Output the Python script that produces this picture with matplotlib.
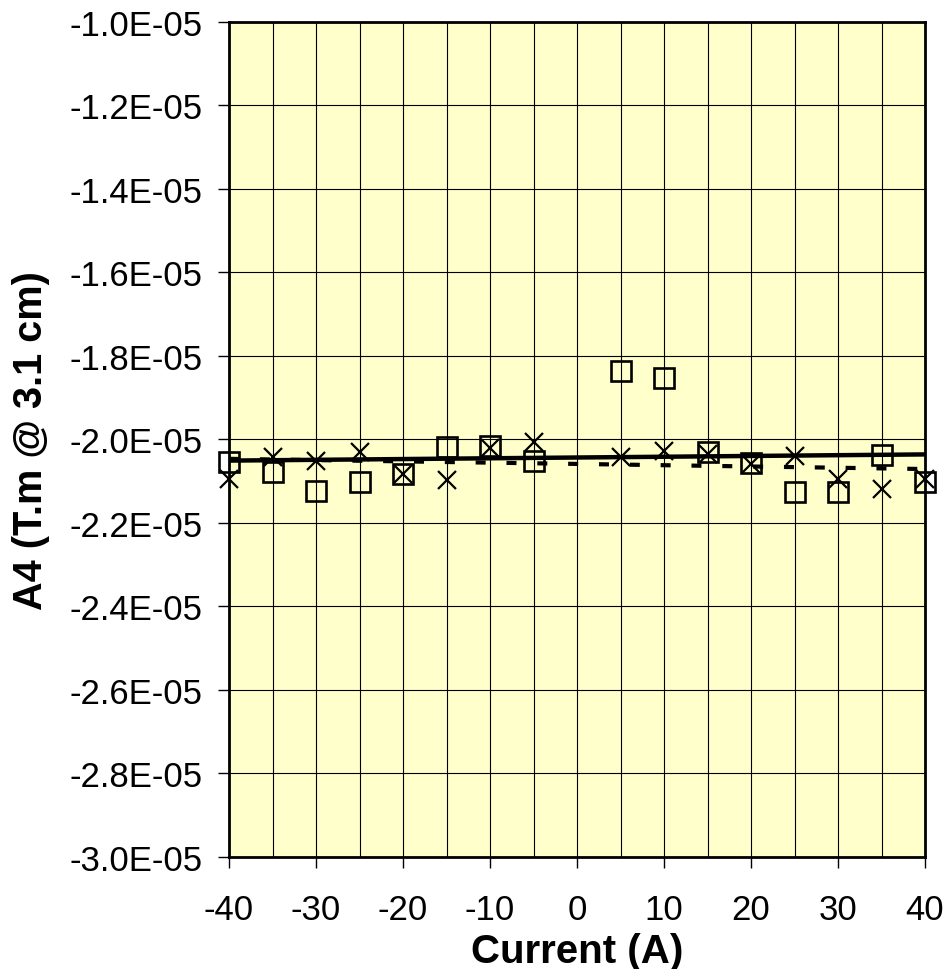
import numpy as np
import matplotlib
matplotlib.use('Agg')
import matplotlib.pyplot as plt
from matplotlib.ticker import MultipleLocator, FuncFormatter

plt.rcParams['font.family'] = ['Liberation Sans', 'DejaVu Sans']
plt.rcParams['axes.unicode_minus'] = False

# Measured A4 harmonic vs. excitation current, two runs
current = [-40, -35, -30, -25, -20, -15, -10, -5, 5, 10, 15, 20, 25, 30, 35, 40]
a4_run1 = [-2.054e-5, -2.078e-5, -2.123e-5, -2.102e-5, -2.083e-5, -2.018e-5,
           -2.016e-5, -2.051e-5, -1.836e-5, -1.853e-5, -2.030e-5, -2.056e-5,
           -2.126e-5, -2.126e-5, -2.037e-5, -2.102e-5]
a4_run2 = [-2.095e-5, -2.042e-5, -2.051e-5, -2.030e-5, -2.083e-5, -2.097e-5,
           -2.020e-5, -2.006e-5, -2.042e-5, -2.028e-5, -2.035e-5, -2.059e-5,
           -2.040e-5, -2.095e-5, -2.119e-5, -2.095e-5]

x = np.array(current, dtype=float)
fit1 = np.polyfit(x, a4_run1, 1)
fit2 = np.polyfit(x, a4_run2, 1)
xl = np.array([-40.0, 40.0])

fig = plt.figure(figsize=(9.44, 9.70), dpi=100)
ax = fig.add_axes([0.2426, 0.1155, 0.7373, 0.8608])
ax.set_facecolor('#FFFFCC')

# Linear trend lines
ax.plot(xl, np.polyval(fit1, xl), color='black', linewidth=3.2, zorder=3)
ax.plot(xl, np.polyval(fit2, xl), color='black', linewidth=3,
        dashes=(2.4, 5), zorder=3)

# Data points
ax.plot(current, a4_run1, linestyle='none', marker='s', markersize=15,
        markerfacecolor='none', markeredgecolor='black', markeredgewidth=1.9,
        zorder=4, clip_on=False)
ax.plot(current, a4_run2, linestyle='none', marker='x', markersize=13.5,
        markeredgecolor='black', markeredgewidth=1.6, zorder=4, clip_on=False)

ax.set_xlim(-40, 40)
ax.set_ylim(-3.0e-5, -1.0e-5)
ax.xaxis.set_major_locator(MultipleLocator(10))
ax.xaxis.set_minor_locator(MultipleLocator(5))
ax.yaxis.set_major_locator(MultipleLocator(0.2e-5))
ax.yaxis.set_major_formatter(FuncFormatter(lambda v, p: '%.1E' % v))

ax.grid(True, which='both', axis='x', color='black', linewidth=0.8)
ax.grid(True, which='major', axis='y', color='black', linewidth=0.8)
ax.set_axisbelow(True)

ax.tick_params(axis='both', which='major', direction='out', length=8,
               width=1, labelsize=25, color='black')
ax.tick_params(axis='x', which='major', pad=18)
ax.tick_params(axis='y', which='major', pad=11)
ax.tick_params(axis='x', which='minor', length=0)

for sp in ax.spines.values():
    sp.set_linewidth(2)
    sp.set_color('black')

ax.set_xlabel('Current (A)', fontsize=29, fontweight='bold', labelpad=4)
ax.set_ylabel('A4 (T.m @ 3.1 cm)', fontsize=28.5, fontweight='bold', labelpad=14)

fig.savefig('out.png', dpi=100)
